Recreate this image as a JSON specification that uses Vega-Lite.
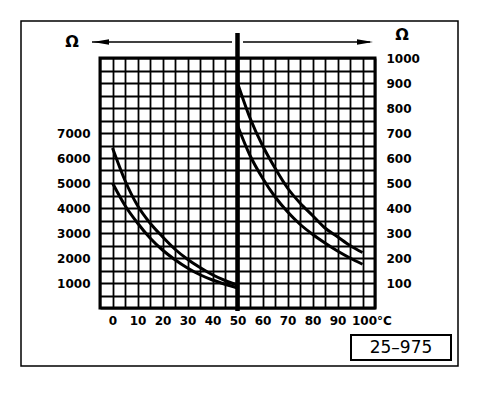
{
  "$schema": "https://vega.github.io/schema/vega-lite/v6.json",
  "width": 275,
  "height": 250,
  "autosize": {"type": "none"},
  "padding": {"left": 100, "top": 58, "right": 121, "bottom": 88},
  "background": "white",
  "config": {
    "font": "DejaVu Sans",
    "view": {"stroke": "black", "strokeWidth": 3},
    "axis": {
      "labelFont": "DejaVu Sans",
      "labelFontSize": 12,
      "labelFontWeight": "bold",
      "labelColor": "black",
      "gridColor": "black",
      "gridOpacity": 1,
      "gridWidth": 1.8,
      "ticks": false,
      "domain": false,
      "labelOverlap": false,
      "labelFlush": false
    }
  },
  "datasets": {
    "left": [
      {"T": 0, "R": 6400, "s": "a"}, {"T": 5, "R": 5100, "s": "a"}, {"T": 10, "R": 4100, "s": "a"},
      {"T": 15, "R": 3400, "s": "a"}, {"T": 20, "R": 2850, "s": "a"}, {"T": 25, "R": 2350, "s": "a"},
      {"T": 30, "R": 1950, "s": "a"}, {"T": 35, "R": 1620, "s": "a"}, {"T": 40, "R": 1330, "s": "a"},
      {"T": 45, "R": 1100, "s": "a"}, {"T": 50, "R": 920, "s": "a"},
      {"T": 0, "R": 5000, "s": "b"}, {"T": 5, "R": 4100, "s": "b"}, {"T": 10, "R": 3400, "s": "b"},
      {"T": 15, "R": 2800, "s": "b"}, {"T": 20, "R": 2320, "s": "b"}, {"T": 25, "R": 1930, "s": "b"},
      {"T": 30, "R": 1600, "s": "b"}, {"T": 35, "R": 1330, "s": "b"}, {"T": 40, "R": 1120, "s": "b"},
      {"T": 45, "R": 950, "s": "b"}, {"T": 50, "R": 800, "s": "b"}
    ],
    "right": [
      {"T": 50, "R": 900, "s": "a"}, {"T": 55, "R": 760, "s": "a"}, {"T": 60, "R": 650, "s": "a"},
      {"T": 65, "R": 560, "s": "a"}, {"T": 70, "R": 480, "s": "a"}, {"T": 75, "R": 420, "s": "a"},
      {"T": 80, "R": 370, "s": "a"}, {"T": 85, "R": 320, "s": "a"}, {"T": 90, "R": 285, "s": "a"},
      {"T": 95, "R": 250, "s": "a"}, {"T": 100, "R": 222, "s": "a"},
      {"T": 50, "R": 730, "s": "b"}, {"T": 55, "R": 610, "s": "b"}, {"T": 60, "R": 520, "s": "b"},
      {"T": 65, "R": 445, "s": "b"}, {"T": 70, "R": 385, "s": "b"}, {"T": 75, "R": 335, "s": "b"},
      {"T": 80, "R": 295, "s": "b"}, {"T": 85, "R": 260, "s": "b"}, {"T": 90, "R": 228, "s": "b"},
      {"T": 95, "R": 200, "s": "b"}, {"T": 100, "R": 175, "s": "b"}
    ],
    "divider": [{"T": 50, "Y": -120, "Y2": 11000}],
    "arrows": [{"T": -8.2, "T2": 47.8, "Y": 10640}, {"T": 52.2, "T2": 103, "Y": 10640}],
    "heads": [{"T": -4.6, "Y": 10640, "dir": "left"}, {"T": 101, "Y": 10640, "dir": "right"}],
    "units": [{"T": -16.2, "Y": 10640, "label": "Ω"}, {"T": 115.8, "Y": 10920, "label": "Ω"}],
    "frame": [{"T": -36.6, "T2": 138.2, "Y": -2320, "Y2": 11480}],
    "box": [{"T": 95.4, "T2": 135.4, "Y": -1080, "Y2": -2080}],
    "boxlabel": [{"T": 115.4, "Y": -1580, "label": "25–975"}]
  },
  "encoding": {
    "x": {
      "field": "T",
      "type": "quantitative",
      "scale": {"domain": [-5, 105], "nice": false, "zero": false},
      "axis": {
        "title": null,
        "values": [-5, 0, 5, 10, 15, 20, 25, 30, 35, 40, 45, 50, 55, 60, 65, 70, 75, 80, 85, 90, 95, 100, 105],
        "labelExpr": "datum.value == 100 ? '100°C' : ((datum.value >= 0 && datum.value < 100 && datum.value % 10 == 0) ? datum.label : '')",
        "labelPadding": 7,
        "labelAlign": {"condition": {"test": "datum.value == 100", "value": "left"}, "value": "center"},
        "labelOffset": {"condition": {"test": "datum.value == 100", "value": -11}, "value": 0}
      }
    }
  },
  "layer": [
    {
      "data": {"name": "left"},
      "mark": {"type": "line", "color": "black", "strokeWidth": 3, "interpolate": "monotone"},
      "encoding": {
        "y": {
          "field": "R",
          "type": "quantitative",
          "scale": {"domain": [0, 10000], "nice": false, "zero": false},
          "axis": {
            "title": null,
            "orient": "left",
            "format": "d",
            "values": [0, 500, 1000, 1500, 2000, 2500, 3000, 3500, 4000, 4500, 5000, 5500, 6000, 6500, 7000, 7500, 8000, 8500, 9000, 9500, 10000],
            "labelExpr": "(datum.value >= 1000 && datum.value <= 7000 && datum.value % 1000 == 0) ? datum.label : ''",
            "labelPadding": 10
          }
        },
        "detail": {"field": "s"}
      }
    },
    {
      "data": {"name": "right"},
      "mark": {"type": "line", "color": "black", "strokeWidth": 3, "interpolate": "monotone"},
      "encoding": {
        "y": {
          "field": "R",
          "type": "quantitative",
          "scale": {"domain": [0, 1000], "nice": false, "zero": false},
          "axis": {
            "title": null,
            "orient": "right",
            "format": "d",
            "grid": false,
            "values": [100, 200, 300, 400, 500, 600, 700, 800, 900, 1000],
            "labelPadding": 11
          }
        },
        "detail": {"field": "s"}
      }
    },
    {
      "data": {"name": "divider"},
      "mark": {"type": "rule", "color": "black", "strokeWidth": 4.5},
      "encoding": {
        "y": {"field": "Y", "type": "quantitative", "scale": {"domain": [0, 10000], "nice": false, "zero": false}, "axis": null},
        "y2": {"field": "Y2"}
      }
    },
    {
      "data": {"name": "arrows"},
      "mark": {"type": "rule", "color": "black", "strokeWidth": 1.5},
      "encoding": {
        "x2": {"field": "T2"},
        "y": {"field": "Y", "type": "quantitative", "scale": {"domain": [0, 10000], "nice": false, "zero": false}, "axis": null}
      }
    },
    {
      "data": {"name": "heads"},
      "mark": {"type": "point", "filled": true, "color": "black", "opacity": 1, "size": 256},
      "encoding": {
        "y": {"field": "Y", "type": "quantitative", "scale": {"domain": [0, 10000], "nice": false, "zero": false}, "axis": null},
        "shape": {
          "field": "dir",
          "type": "nominal",
          "scale": {"domain": ["left", "right"], "range": ["M-1,0L1,-0.35L1,0.35Z", "M1,0L-1,-0.35L-1,0.35Z"]},
          "legend": null
        }
      }
    },
    {
      "data": {"name": "units"},
      "mark": {"type": "text", "fontSize": 16, "fontWeight": "bold", "color": "black", "baseline": "middle", "align": "center"},
      "encoding": {
        "y": {"field": "Y", "type": "quantitative", "scale": {"domain": [0, 10000], "nice": false, "zero": false}, "axis": null},
        "text": {"field": "label"}
      }
    },
    {
      "data": {"name": "frame"},
      "mark": {"type": "rect", "fillOpacity": 0, "stroke": "black", "strokeWidth": 1.5},
      "encoding": {
        "x2": {"field": "T2"},
        "y": {"field": "Y", "type": "quantitative", "scale": {"domain": [0, 10000], "nice": false, "zero": false}, "axis": null},
        "y2": {"field": "Y2"}
      }
    },
    {
      "data": {"name": "box"},
      "mark": {"type": "rect", "fillOpacity": 0, "stroke": "black", "strokeWidth": 2},
      "encoding": {
        "x2": {"field": "T2"},
        "y": {"field": "Y", "type": "quantitative", "scale": {"domain": [0, 10000], "nice": false, "zero": false}, "axis": null},
        "y2": {"field": "Y2"}
      }
    },
    {
      "data": {"name": "boxlabel"},
      "mark": {"type": "text", "fontSize": 17, "color": "black", "baseline": "middle", "align": "center"},
      "encoding": {
        "y": {"field": "Y", "type": "quantitative", "scale": {"domain": [0, 10000], "nice": false, "zero": false}, "axis": null},
        "text": {"field": "label"}
      }
    }
  ],
  "resolve": {"scale": {"y": "independent"}, "axis": {"y": "independent"}}
}
